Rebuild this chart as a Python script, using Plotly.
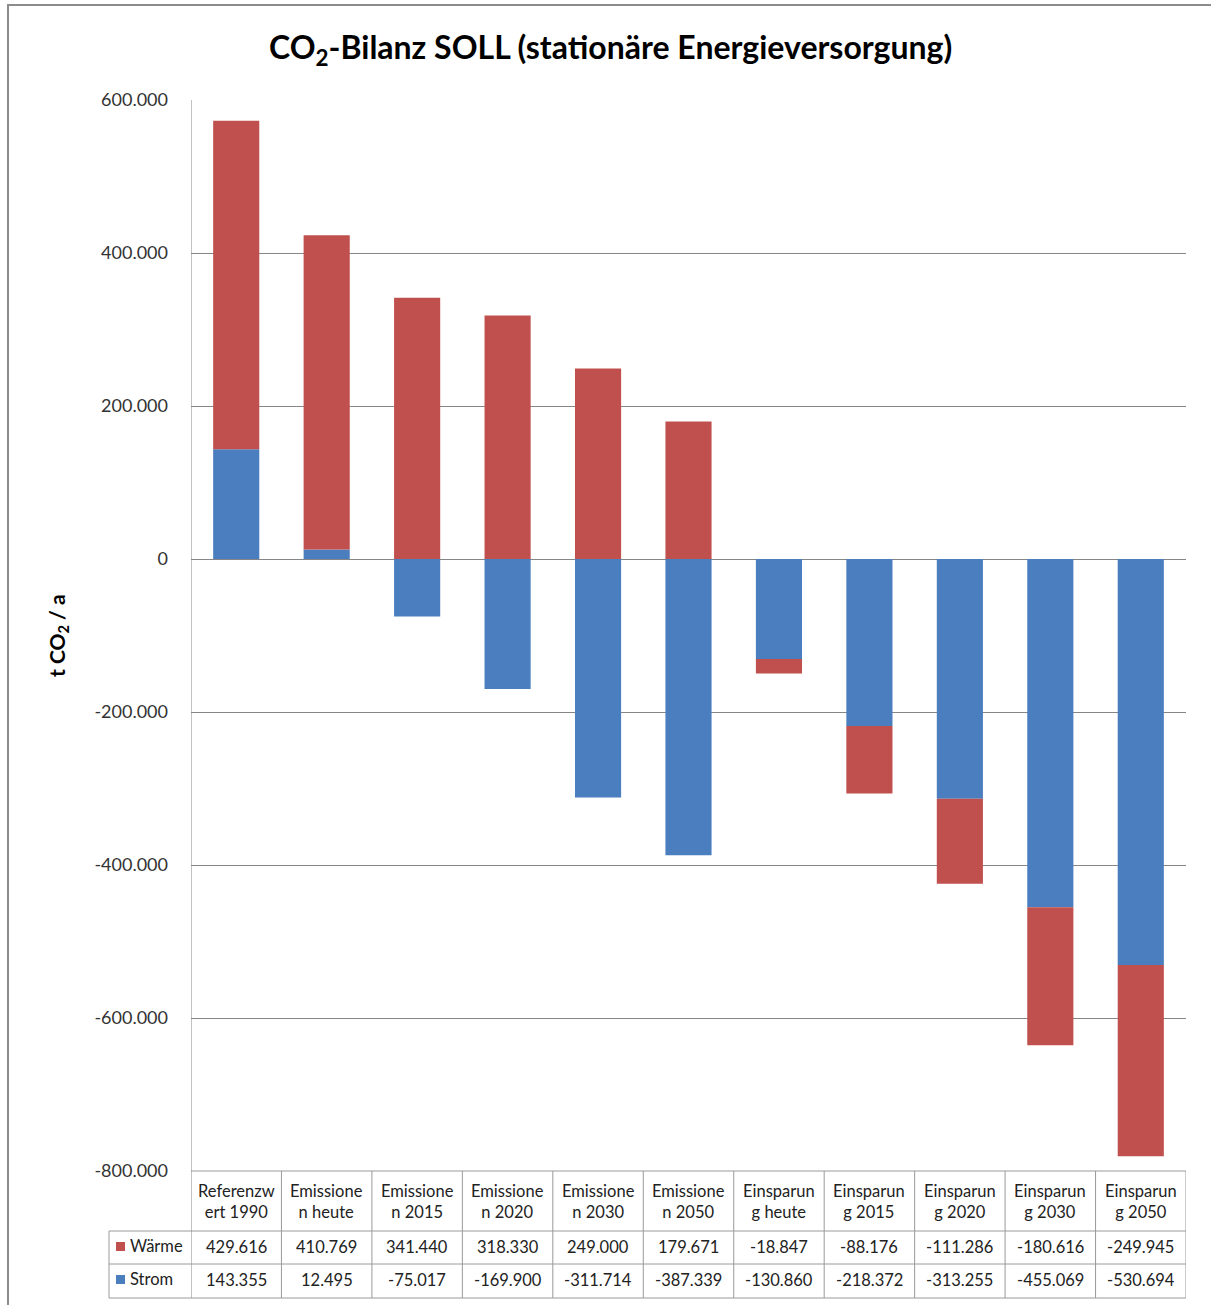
import plotly.graph_objects as go

categories = ["Referenzwert 1990", "Emissionen heute", "Emissionen 2015", "Emissionen 2020",
              "Emissionen 2030", "Emissionen 2050", "Einsparung heute", "Einsparung 2015",
              "Einsparung 2020", "Einsparung 2030", "Einsparung 2050"]
header_labels = ["Referenzw<br>ert 1990", "Emissione<br>n heute", "Emissione<br>n 2015",
                 "Emissione<br>n 2020", "Emissione<br>n 2030", "Emissione<br>n 2050",
                 "Einsparun<br>g heute", "Einsparun<br>g 2015", "Einsparun<br>g 2020",
                 "Einsparun<br>g 2030", "Einsparun<br>g 2050"]
waerme = [429616, 410769, 341440, 318330, 249000, 179671, -18847, -88176, -111286, -180616, -249945]
strom = [143355, 12495, -75017, -169900, -311714, -387339, -130860, -218372, -313255, -455069, -530694]
tick_vals = [600000, 400000, 200000, 0, -200000, -400000, -600000, -800000]
tick_text = ["600.000", "400.000", "200.000", "0", "-200.000", "-400.000", "-600.000", "-800.000"]

RED = "#C0504D"
BLUE = "#4A7EBF"
FONT = "Lato"
W, H = 1211, 1305
L, R, T, B = 191, 1186, 100, 1171  # plot area pixels


def px(X):
    return (X - L) / (R - L)


def py(Y):
    return (B - Y) / (B - T)


def fmt(v):
    s = f"{abs(v):,}".replace(",", ".")
    return ("-" if v < 0 else "") + s


xs = list(range(len(categories)))
fig = go.Figure()
fig.add_trace(go.Bar(x=xs, y=strom, name="Strom", marker=dict(color=BLUE, line=dict(width=0)), width=0.51))
fig.add_trace(go.Bar(x=xs, y=waerme, name="Wärme", marker=dict(color=RED, line=dict(width=0)), width=0.51))

shapes = []
grid = "#868686"
tbl = "#9a9a9a"
# outer frame
shapes.append(dict(type="rect", xref="paper", yref="paper", x0=px(8), x1=px(1216), y0=py(1312), y1=py(5),
                   line=dict(color="#8c8c8c", width=2), layer="below"))
# table horizontal lines
for Y, x0 in [(B, L), (1231, 109), (1264, 109), (1298, 109)]:
    shapes.append(dict(type="line", xref="paper", yref="paper", x0=px(x0), x1=px(R), y0=py(Y), y1=py(Y),
                       line=dict(color=tbl, width=1)))
# table vertical lines
shapes.append(dict(type="line", xref="paper", yref="paper", x0=px(109), x1=px(109), y0=py(1231), y1=py(1298),
                   line=dict(color=tbl, width=1)))
for k in range(len(categories) + 1):
    xb = k - 0.5
    shapes.append(dict(type="line", xref="x", yref="paper", x0=xb, x1=xb, y0=py(1298),
                       y1=py(B) if k > 0 else py(T), line=dict(color=tbl if k > 0 else grid, width=1)))
# legend keys
for Yc, col in [(1246, RED), (1279, BLUE)]:
    shapes.append(dict(type="rect", xref="paper", yref="paper", x0=px(116), x1=px(125), y0=py(Yc + 5),
                       y1=py(Yc - 4), fillcolor=col, line=dict(width=0)))

ann = []
# title
ann.append(dict(text="<b>CO<sub>2</sub>-Bilanz SOLL (stationäre Energieversorgung)</b>", xref="paper", yref="paper",
                x=px(610), y=py(49), showarrow=False, font=dict(family=FONT, size=32, color="#000000"),
                xanchor="center", yanchor="middle"))
# y axis title
ann.append(dict(text="<b>t CO<sub>2</sub> / a</b>", xref="paper", yref="paper", x=px(58), y=py(636),
                showarrow=False, textangle=-90, font=dict(family=FONT, size=21, color="#000000"),
                xanchor="center", yanchor="middle"))
# table header
TF = dict(family=FONT, size=16.5, color="#222222")
for i, lab in enumerate(header_labels):
    ann.append(dict(text=lab, xref="x", yref="paper", x=i, y=py(1201), showarrow=False,
                    font=TF, xanchor="center", yanchor="middle"))
    ann.append(dict(text=fmt(waerme[i]), xref="x", yref="paper", x=i, y=py(1247), showarrow=False,
                    font=TF, xanchor="center", yanchor="middle"))
    ann.append(dict(text=fmt(strom[i]), xref="x", yref="paper", x=i, y=py(1280), showarrow=False,
                    font=TF, xanchor="center", yanchor="middle"))
for Yc, name in [(1246, "Wärme"), (1279, "Strom")]:
    ann.append(dict(text=name, xref="paper", yref="paper", x=px(128), y=py(Yc), showarrow=False,
                    font=TF, xanchor="left", yanchor="middle"))

fig.update_layout(
    width=W, height=H,
    margin=dict(l=L, r=W - R, t=T, b=H - B, pad=0),
    paper_bgcolor="white", plot_bgcolor="white",
    barmode="relative", bargap=0.49,
    showlegend=False,
    shapes=shapes, annotations=ann,
    xaxis=dict(range=[-0.5, len(categories) - 0.5], showticklabels=False, showgrid=False, zeroline=False,
               showline=False, ticks=""),
    yaxis=dict(range=[-800000, 600000], tickvals=tick_vals, ticktext=tick_text, showgrid=True,
               gridcolor=grid, gridwidth=1, zeroline=True, zerolinecolor=grid, zerolinewidth=1,
               showline=False, ticks="", ticklabelstandoff=22,
               tickfont=dict(family=FONT, size=18, color="#333333")),
    font=dict(family=FONT),
)

fig.write_html("out.html")
